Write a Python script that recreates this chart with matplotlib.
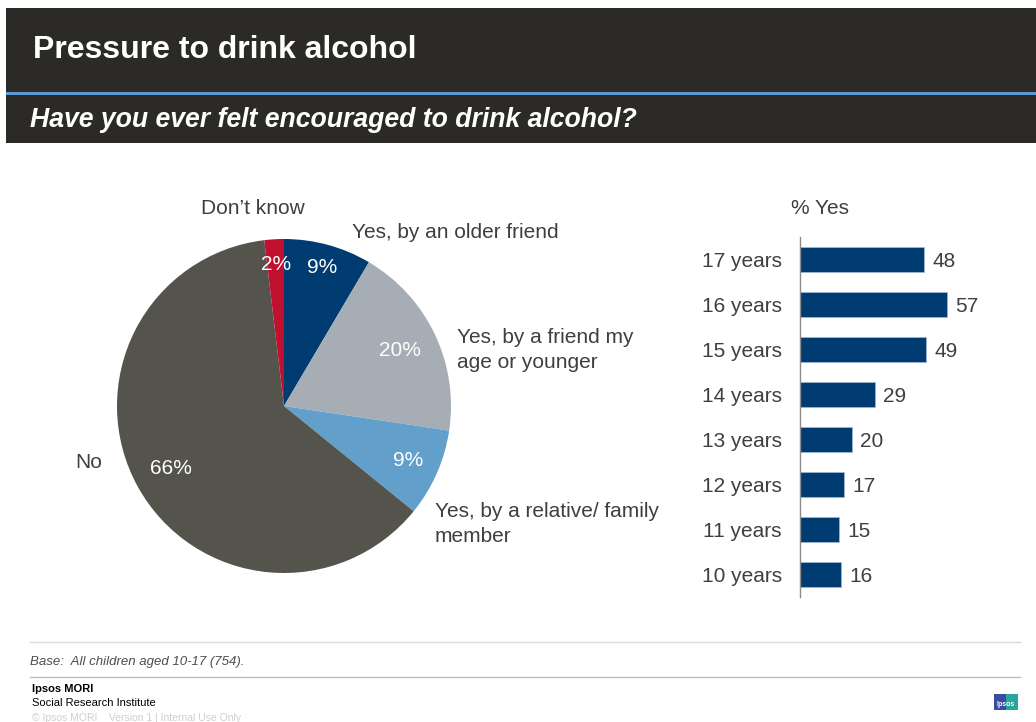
import numpy as np
import matplotlib
matplotlib.use("Agg")
import matplotlib.pyplot as plt
from matplotlib.patches import Rectangle

plt.rcParams['font.family'] = ['Liberation Sans', 'DejaVu Sans']

W, H = 1036, 722

# pie: have you ever felt encouraged to drink alcohol?
pie_labels = ["Yes, by an older friend", "Yes, by a friend my\nage or younger",
              "Yes, by a relative/ family\nmember", "No", "Don\u2019t know"]
pie_values = [9, 20, 9, 66, 2]
pie_colors = ["#003C71", "#A6ADB5", "#62A0CB", "#55544C", "#C0102F"]

# bars: % yes by age
ages = ["17 years", "16 years", "15 years", "14 years",
        "13 years", "12 years", "11 years", "10 years"]
pct_yes = [48, 57, 49, 29, 20, 17, 15, 16]

TXT = "#3F3F3F"
DARK = "#2B2A26"


def fx(x):
    return x / W


def fy(y):
    return 1 - y / H


fig = plt.figure(figsize=(W / 100, H / 100), dpi=100)
fig.patch.set_facecolor("white")

# cabecalho
fig.add_artist(Rectangle((fx(6), fy(92)), fx(W) - fx(6), fy(8) - fy(92),
                         transform=fig.transFigure, color=DARK, lw=0))
fig.add_artist(Rectangle((fx(6), fy(95)), fx(W) - fx(6), fy(92) - fy(95),
                         transform=fig.transFigure, color="#5B9BD5", lw=0))
fig.add_artist(Rectangle((fx(6), fy(143)), fx(W) - fx(6), fy(95) - fy(143),
                         transform=fig.transFigure, color=DARK, lw=0))
fig.text(fx(33), fy(50), "Pressure to drink alcohol", color="white",
         fontsize=23, fontweight="bold", va="center", ha="left")
fig.text(fx(30), fy(120), "Have you ever felt encouraged to drink alcohol?",
         color="white", fontsize=19.2, fontweight="bold", fontstyle="italic",
         va="center", ha="left")

# pizza
cx, cy, R = 284, 406, 167
box = 1.2 * R
ax = fig.add_axes([fx(cx - box), fy(cy + box), 2 * box / W, 2 * box / H])
wedges, _ = ax.pie(pie_values, colors=pie_colors, startangle=90,
                   counterclock=False, radius=1,
                   wedgeprops=dict(linewidth=0))
ax.set_xlim(-1.2, 1.2)
ax.set_ylim(-1.2, 1.2)
ax.axis("off")

dist = [0.86, 0.77, 0.81, 0.77, 0.85]
for w, v, d in zip(wedges, pie_values, dist):
    ang = np.deg2rad((w.theta1 + w.theta2) / 2)
    ax.text(d * np.cos(ang), d * np.sin(ang), f"{v}%", color="white",
            fontsize=15, ha="center", va="center")

# rotulos externos
ext_pos = [(352, 232, "left"), (457, 350, "left"), (435, 524, "left"),
           (102, 463, "right"), (253, 208, "center")]
for lab, (x, y, ha) in zip(pie_labels, ext_pos):
    fig.text(fx(x), fy(y), lab, color=TXT, fontsize=15, ha=ha, va="center",
             linespacing=1.45)

# barras
scale = 2.58
bx = fig.add_axes([fx(800), fy(597), 210 / W, 360 / H])
yy = np.arange(len(ages))
bx.barh(yy, pct_yes, height=0.56, color="#003C71", edgecolor="#9DB5D1",
        linewidth=0.6)
bx.set_ylim(len(ages) - 0.5, -0.5)
bx.set_xlim(0, 210 / scale)
bx.set_yticks(yy)
bx.set_yticklabels(ages, fontsize=15, color=TXT)
bx.tick_params(axis="y", length=0, pad=13)
bx.set_xticks([])
for s in ["top", "right", "bottom"]:
    bx.spines[s].set_visible(False)
bx.spines["left"].set_color("#8C8C8C")
bx.spines["left"].set_linewidth(1)
bx.set_facecolor("none")
for i, v in enumerate(pct_yes):
    bx.annotate(str(v), (v, i), xytext=(6, -1.2), textcoords="offset points",
                fontsize=15, color=TXT, va="center", ha="left")
fig.text(fx(820), fy(208), "% Yes", color=TXT, fontsize=15,
         ha="center", va="center")

# rodape
fig.add_artist(plt.Line2D([fx(30), fx(1020)], [fy(642), fy(642)],
                          transform=fig.transFigure, color="#DADADA", lw=1))
fig.add_artist(plt.Line2D([fx(30), fx(1020)], [fy(677), fy(677)],
                          transform=fig.transFigure, color="#BDBDBD", lw=1))
fig.text(fx(30), fy(662), "Base:  All children aged 10-17 (754).",
         color="#4D4D4D", fontsize=9.5, fontstyle="italic", va="center")
fig.text(fx(32), fy(689), "Ipsos MORI", color="black", fontsize=8,
         fontweight="bold", va="center")
fig.text(fx(32), fy(703), "Social Research Institute", color="black",
         fontsize=8, va="center")
fig.text(fx(32), fy(718), "\u00a9 Ipsos MORI    Version 1 | Internal Use Only",
         color="#CFCFCF", fontsize=7.5, va="center")

# logo
fig.add_artist(Rectangle((fx(994), fy(710)), 12 / W, 16 / H,
                         transform=fig.transFigure, color="#3B4C9E", lw=0))
fig.add_artist(Rectangle((fx(1006), fy(710)), 12 / W, 16 / H,
                         transform=fig.transFigure, color="#28A59E", lw=0))
fig.text(fx(1006), fy(705), "Ipsos", color="white", fontsize=5,
         fontweight="bold", ha="center", va="center")

fig.savefig("out.png", dpi=100)
